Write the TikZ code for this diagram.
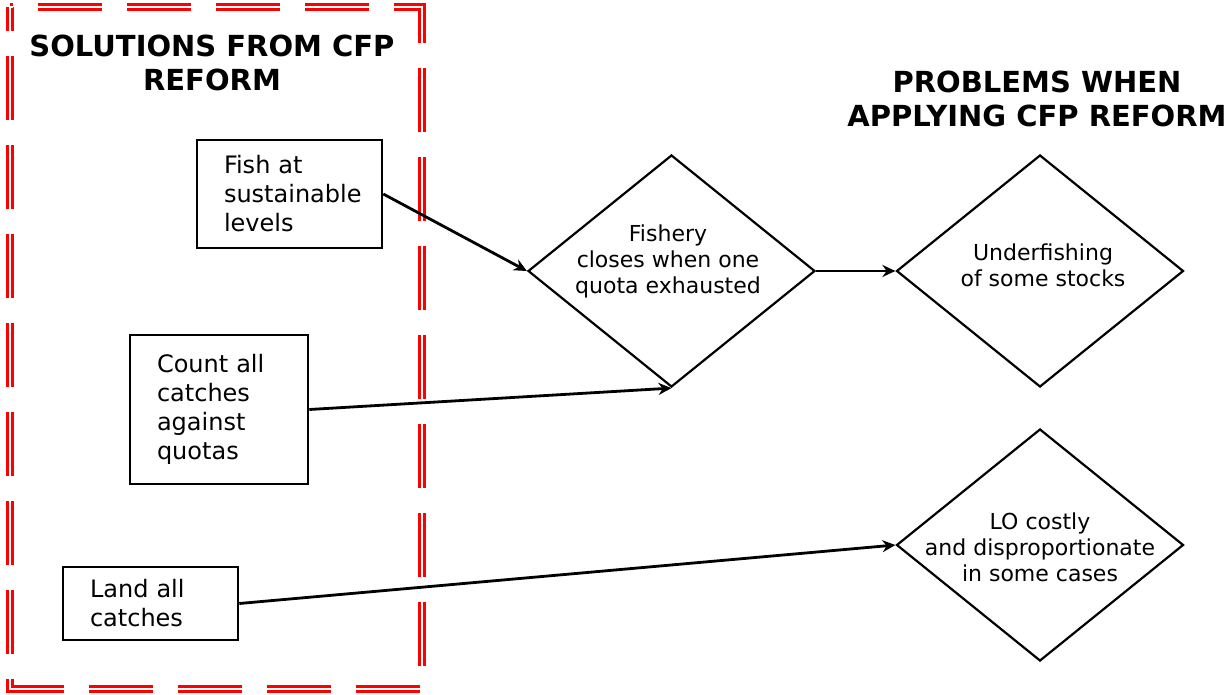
\documentclass[tikz,border=0pt]{standalone}
\usepackage{fontspec}
\setmainfont{DejaVu Sans}
\usetikzlibrary{shapes.geometric,arrows.meta}

\tikzset{
  solbox/.style={draw, line width=1.3pt, align=left, inner xsep=13.5pt, font=\fontsize{12}{14.5}\selectfont},
  probdia/.style={draw, diamond, line width=1.1pt, inner sep=0pt, minimum width=143.5pt, minimum height=116pt},
  diatext/.style={align=center, font=\fontsize{11}{13}\selectfont},
  headtext/.style={align=center, font=\fontsize{14.5}{17}\selectfont\bfseries},
  link/.style={line width=1.4pt, -{Stealth[length=6.5pt,width=6pt]}},
  cfpframe/.style={draw=red, double=white, line width=1.3pt, double distance=1.2pt,
    dash pattern=on 32pt off 12.5pt, dash phase=20pt}
}

\begin{document}
\begin{tikzpicture}[x=0.5pt, y=-0.5pt]
  \useasboundingbox (0,0) rectangle (1232,695);

  % solutions frame
  \draw[cfpframe] (10,7) rectangle (422,689);
  \node[headtext] (soltitle) at (212,63) {SOLUTIONS FROM CFP\\REFORM};
  \node[headtext] (probtitle) at (1037,99) {PROBLEMS WHEN\\APPLYING CFP REFORM};

  % solutions
  \node[solbox, text width=65.5pt, minimum height=54pt] (fish) at (289.5,194) {Fish at\\sustainable\\levels};
  \node[solbox, text width=62pt, minimum height=74.5pt] (count) at (219,409.5) {Count all\\catches\\against\\quotas};
  \node[solbox, text width=60.5pt, minimum height=36.5pt] (land) at (150.5,603.5) {Land all\\catches};

  % problems
  \node[probdia] (closes) at (671.5,271) {};
  \node[diatext] (closestext) at (668,261) {Fishery\\closes when one\\quota exhausted};
  \node[probdia] (under) at (1040,271) {};
  \node[diatext] (undertext) at (1043,265) {Underfishing\\of some stocks};
  \node[probdia] (costly) at (1040,545) {};
  \node[diatext] (costlytext) at (1040,547) {LO costly\\and disproportionate\\in some cases};

  \draw[link] (fish.east) -- (closes.west);
  \draw[link] (count.east) -- (closes.south);
  \draw[link] (closes.east) -- (under.west);
  \draw[link] (land.east) -- (costly.west);
\end{tikzpicture}
\end{document}
